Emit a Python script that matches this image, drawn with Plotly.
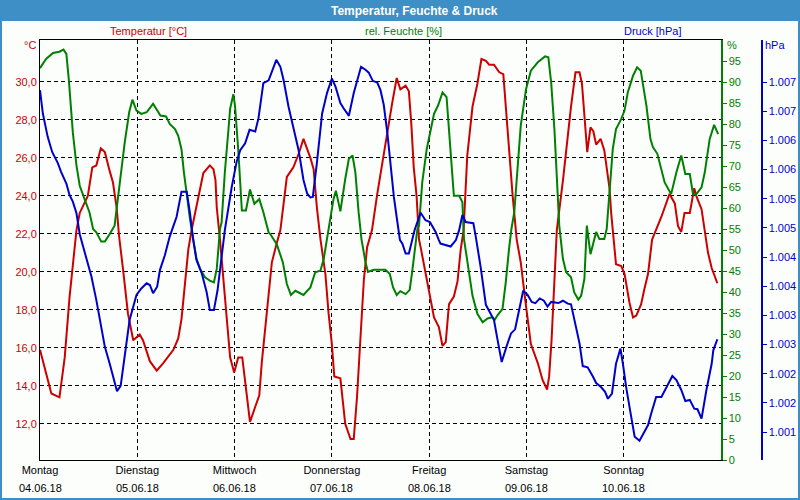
import pandas as pd
import plotly.graph_objects as go

# ---------------- data ----------------
start = "2018-06-04 00:00"
end = "2018-06-11 00:00"

day_dates = ["2018-06-04", "2018-06-05", "2018-06-06", "2018-06-07",
             "2018-06-08", "2018-06-09", "2018-06-10"]
day_names = ["Montag", "Dienstag", "Mittwoch", "Donnerstag", "Freitag", "Samstag", "Sonntag"]
day_labels = ["04.06.18", "05.06.18", "06.06.18", "07.06.18", "08.06.18", "09.06.18", "10.06.18"]

# hours since Monday 00:00
temp_hours = [0, 2.8, 4.8, 6.1, 7.3, 9.0, 9.8, 11.8, 12.9, 13.9, 15.0, 16.0, 17.2, 18.0, 18.9, 19.5,
              20.5, 21.7, 23.0, 24.6, 25.4, 27.1, 28.8, 30.4, 32.9, 34.1, 34.9, 35.8, 36.6, 37.4,
              39.5, 40.3, 41.9, 42.8, 43.3, 43.6, 44.4, 45.6, 46.9, 47.9, 48.9, 49.9, 51.0, 51.8,
              53.1, 54.1, 54.7, 56.0, 57.2, 58.4, 59.3, 60.9, 62.5, 63.8, 65.0, 66.7, 67.5, 68.3,
              69.2, 70.4, 71.2, 72.0, 72.6, 74.1, 75.3, 76.6, 77.4, 78.2, 79.1, 79.9, 80.7, 81.9,
              83.2, 84.4, 85.7, 86.9, 88.0, 88.9, 90.2, 91.0, 91.6, 92.2, 92.9, 93.5, 93.9, 95.1,
              95.9, 97.2, 98.4, 99.3, 100.1, 100.9, 102.1, 103.0, 103.8, 104.5, 105.4, 106.7,
              107.9, 108.9, 110.0, 110.8, 112.0, 113.3, 114.3, 114.9, 115.7, 116.6, 117.6, 118.6,
              119.9, 121.1, 122.8, 124.0, 125.1, 125.6, 126.2, 126.9, 127.5, 129.0, 130.0, 131.0,
              132.1, 133.1, 133.7, 134.3, 135.0, 135.8, 136.5, 137.2, 138.3, 139.2, 140.1, 140.5,
              140.9, 141.7, 142.1, 143.4, 144.2, 145.4, 146.3, 147.1, 148.3, 149.1, 150.0, 151.0,
              153.3, 155.3, 156.6, 157.4, 158.2, 159.0, 160.3, 161.4, 161.9, 163.2, 164.0, 164.8,
              165.7, 167.1]
temp_values = [15.9, 13.6, 13.4, 15.5, 18.7, 22.2, 23.1, 24.0, 25.5, 25.6, 26.5, 26.3, 25.3, 24.7, 23.4, 21.9,
               20.1, 17.8, 16.4, 16.7, 16.4, 15.3, 14.8, 15.2, 15.9, 16.5, 17.5, 19.6, 21.2, 22.2,
               24.5, 25.2, 25.6, 25.4, 24.8, 23.4, 21.7, 18.7, 15.5, 14.7, 15.5, 15.5, 13.4, 12.1,
               12.9, 13.5, 15.2, 17.8, 20.5, 21.5, 22.2, 25.0, 25.5, 26.2, 27.0, 26.0, 25.4, 23.4,
               21.7, 19.9, 17.8, 16.2, 14.5, 14.4, 12.0, 11.2, 11.2, 13.4, 16.9, 19.6, 21.3, 22.2,
               24.1, 25.7, 27.3, 28.9, 30.2, 29.6, 29.8, 29.5, 27.8, 25.5, 24.0, 21.7, 21.3, 19.9,
               18.9, 17.6, 17.1, 16.1, 16.3, 18.3, 18.7, 19.5, 21.2, 22.2, 26.1, 28.7,
               29.9, 31.2, 31.1, 30.9, 30.9, 30.5, 30.4, 28.7, 26.4, 24.0, 21.7, 20.5,
               18.2, 16.2, 15.2, 14.3, 13.8, 14.5, 16.4, 19.6, 22.2, 24.8, 26.9, 28.7,
               30.5, 30.5, 29.9, 28.4, 26.3, 27.6, 27.4, 26.7, 27.0, 26.4, 25.0, 24.4,
               23.1, 21.5, 20.4, 20.3, 19.9, 18.4, 17.6, 17.7, 18.3, 19.1, 19.9, 21.7,
               22.9, 24.1, 23.6, 22.4, 22.1, 23.1, 23.1, 24.4, 24.0, 23.3, 22.0, 21.0,
               20.2, 19.4]

hum_hours = [0, 1.5, 3.2, 4.8, 5.8, 6.5, 7.1, 7.7, 8.1, 9.0, 9.8, 11.0, 12.2, 13.1, 13.9, 15.1, 16.0,
             17.2, 18.0, 18.4, 19.7, 20.9, 22.0, 22.8, 23.8, 25.0, 26.3, 27.9, 29.7, 31.1, 32.0,
             33.3, 34.1, 34.9, 35.5, 36.2, 37.0, 37.8, 38.6, 39.5, 40.7, 41.9, 42.9, 43.6, 44.0,
             44.4, 44.8, 45.6, 46.5, 46.9, 47.7, 48.1, 48.9, 49.4, 49.8, 50.8, 51.8, 52.9, 54.1,
             55.1, 56.4, 56.8, 58.4, 59.9, 60.9, 61.9, 63.0, 65.0, 66.7, 67.9, 69.2, 70.0, 71.2,
             71.6, 72.4, 73.0, 74.1, 75.3, 76.2, 77.1, 77.8, 78.6, 79.3, 80.3, 80.9, 82.3, 85.2,
             86.3, 87.1, 88.0, 88.9, 90.2, 91.2, 91.8, 92.4, 93.1, 93.5, 94.3, 95.4, 96.4, 97.2,
             98.2, 99.3, 100.3, 100.7, 101.1, 101.7, 102.1, 103.4, 104.2, 104.6, 105.8, 106.7,
             107.9, 109.2, 110.4, 111.6, 112.2, 112.9, 114.1, 114.9, 115.7, 116.3, 117.0, 117.8,
             118.6, 119.9, 121.1, 122.8, 124.6, 125.4, 126.1, 126.9, 127.5, 128.1, 129.0, 129.8,
             131.0, 131.8, 132.8, 133.5, 134.3, 134.9, 135.8, 136.8, 137.2, 138.0, 139.2, 139.8,
             140.5, 141.3, 142.1, 143.4, 144.2, 145.0, 146.3, 147.3, 148.2, 148.7, 149.6, 150.6,
             151.2, 152.3, 153.3, 154.1, 155.7, 157.0, 158.2, 159.2, 160.3, 161.1, 161.9, 163.2,
             164.0, 165.2, 166.3, 167.3]
hum_values = [93.3, 95.5, 96.9, 97.2, 97.7, 96.7, 90.7, 82.0, 78.0, 70.1, 65.3, 62.1, 59.0, 55.0, 54.2, 52.0, 52.0,
              53.8, 55.0, 55.8, 66.1, 75.6, 82.8, 85.8, 83.2, 82.4, 82.8, 84.8, 82.0, 81.8, 80.0,
              78.8, 77.2, 74.0, 68.5, 62.9, 57.4, 52.6, 47.9, 45.5, 43.5, 42.7, 42.3, 45.5, 51.0,
              55.0, 56.6, 68.5, 78.8, 83.6, 87.1, 84.4, 74.0, 66.1, 59.4, 59.4, 64.4, 61.0, 62.1,
              59.0, 54.2, 53.8, 51.4, 47.1, 41.9, 39.3, 40.3, 39.3, 41.1, 44.7, 45.1, 47.9, 55.0,
              57.4, 62.1, 64.1, 59.2, 66.9, 71.7, 72.5, 68.5, 59.0, 52.6, 47.1, 44.8, 45.3, 45.3,
              44.3, 41.1, 39.3, 40.2, 39.5, 40.5, 44.7, 50.2, 55.0, 55.8, 66.1, 74.0, 79.2, 82.4,
              84.4, 87.5, 86.4, 81.2, 74.0, 66.9, 62.9, 62.9, 61.4, 52.6, 44.7, 39.1,
              34.8, 32.8, 33.7, 34.0, 33.4, 34.5, 36.0, 42.3, 50.2, 55.0, 59.0, 70.1,
              79.6, 88.3, 92.7, 94.7, 96.1, 95.9, 89.9, 78.8, 66.9, 55.8, 47.9, 44.7,
              43.5, 39.9, 38.2, 39.1, 43.1, 55.8, 49.0, 52.6, 54.3, 52.6, 52.6, 55.0,
              64.5, 74.0, 78.8, 81.2, 83.2, 87.5, 91.5, 93.5, 92.7, 89.9, 84.4, 76.4,
              74.5, 72.9, 69.3, 66.1, 63.3, 68.5, 72.5, 68.1, 68.1, 63.3, 63.3, 64.9,
              68.5, 76.4, 79.8, 77.6]

press_hours = [0, 0.7, 1.9, 3.0, 4.4, 5.2, 6.5, 7.3, 8.1, 9.0, 9.8, 11.4, 12.7, 13.9, 15.1, 16.0, 17.2,
               18.0, 19.0, 19.9, 20.9, 22.1, 23.8, 25.0, 26.3, 27.1, 27.9, 28.9, 29.6, 30.8, 32.0,
               33.7, 34.9, 36.2, 37.0, 37.8, 38.6, 39.9, 41.1, 41.9, 42.9, 43.8, 44.8, 45.6, 47.3,
               48.5, 49.4, 50.6, 51.7, 53.1, 53.9, 55.1, 56.4, 57.2, 58.3, 59.3, 60.1, 61.3, 62.5,
               63.8, 65.0, 65.9, 66.7, 67.3, 68.3, 69.6, 70.8, 72.0, 72.9, 74.1, 74.9, 76.2, 77.4,
               79.2, 80.3, 81.1, 82.1, 83.2, 84.0, 84.8, 85.7, 86.5, 87.3, 88.1, 88.8, 89.4, 90.2,
               91.0, 91.8, 92.4, 93.9, 95.1, 96.2, 97.6, 98.4, 98.8, 101.3, 102.6, 103.4, 104.2,
               105.0, 106.9, 107.5, 107.9, 108.7, 110.0, 112.0, 112.9, 113.9, 115.2, 116.2, 117.2,
               118.2, 119.2, 120.3, 121.3, 122.2, 123.3, 124.3, 125.2, 126.1, 127.9, 129.0, 130.2,
               131.0, 131.8, 133.1, 133.9, 135.1, 136.4, 137.2, 138.4, 139.4, 140.1, 141.1, 142.1,
               143.2, 143.8, 144.6, 145.7, 146.7, 147.9, 148.7, 150.0, 150.8, 152.0, 153.3, 154.5,
               156.0, 157.0, 158.2, 159.2, 160.3, 161.4, 162.2, 163.2, 164.4, 165.7, 166.1, 167.1]
press_values = [1006.86, 1006.46, 1006.06, 1005.80, 1005.61, 1005.46, 1005.26, 1005.06, 1004.95, 1004.75,
                1004.39, 1004.00, 1003.66, 1003.26, 1002.80, 1002.46, 1002.17,
                1001.95, 1001.70, 1001.79, 1002.29, 1002.92, 1003.35, 1003.46, 1003.55, 1003.52, 1003.38,
                1003.49, 1003.78, 1004.03, 1004.35,
                1004.69, 1005.12, 1005.12, 1004.75, 1004.29, 1003.95, 1003.72, 1003.40, 1003.09, 1003.09,
                1003.43, 1004.00, 1004.46, 1005.20,
                1005.63, 1005.83, 1005.95, 1006.18, 1006.15, 1006.38, 1006.98, 1007.03, 1007.18, 1007.38,
                1007.26, 1007.03, 1006.58, 1006.23,
                1005.83, 1005.32, 1005.09, 1005.02, 1005.03, 1005.61, 1006.46, 1006.81, 1007.06, 1006.92,
                1006.64, 1006.55, 1006.42, 1006.81,
                1007.26, 1007.21, 1007.16, 1007.02, 1006.99, 1006.86, 1006.61, 1006.12, 1005.55, 1005.03,
                1004.63, 1004.29, 1004.23, 1004.06,
                1004.06, 1004.29, 1004.46, 1004.76, 1004.63, 1004.60, 1004.43, 1004.29, 1004.23, 1004.18,
                1004.29, 1004.46, 1004.72,
                1004.60, 1004.58, 1004.35, 1004.18, 1003.83, 1003.18, 1002.92, 1002.57, 1002.20, 1002.49,
                1002.69, 1002.76,
                1003.09, 1003.42, 1003.35, 1003.23, 1003.21, 1003.29, 1003.25, 1003.15, 1003.23, 1003.21,
                1003.25, 1003.20,
                1003.19, 1002.92, 1002.52, 1002.13, 1002.11, 1001.95, 1001.84, 1001.77, 1001.69, 1001.57,
                1001.66, 1002.17,
                1002.43, 1002.17, 1001.77, 1001.32, 1000.92, 1000.85, 1000.96, 1001.12, 1001.32, 1001.60,
                1001.60, 1001.77,
                1001.96, 1001.89, 1001.72, 1001.53, 1001.55, 1001.40, 1001.39, 1001.23, 1001.72, 1002.17,
                1002.40, 1002.59]

temp_ticks = [12, 14, 16, 18, 20, 22, 24, 26, 28, 30]
temp_ticktext = ["12,0", "14,0", "16,0", "18,0", "20,0", "22,0", "24,0", "26,0", "28,0", "30,0"]
hum_ticks = list(range(0, 100, 5))
press_ticks = [1001.0, 1001.5, 1002.0, 1002.5, 1003.0, 1003.5, 1004.0, 1004.5, 1005.0,
               1005.5, 1006.0, 1006.5, 1007.0]
press_ticktext = ["1.001", "1.002", "1.002", "1.003", "1.003", "1.004", "1.004", "1.005",
                  "1.005", "1.006", "1.006", "1.007", "1.007"]

# ---------------- styling ----------------
RED = "#cc0000"
GREEN = "#008000"
BLUE = "#0000cc"
FRAME = "#3d8fc6"
BG = "#fcfefc"
FONT = "Liberation Sans"

W, H = 800, 500
ML, MR, MT, MB = 40, 0, 40, 40
PW = W - ML - MR   # 760
PH = H - MT - MB   # 420
X_END = 721        # right edge of the data area (green axis)
BLUE_AX = 761


def px(x):
    return (x - ML) / PW


def py(y):
    return (H - MB - y) / PH


base = pd.Timestamp(start)


def to_time(hours):
    return base + pd.to_timedelta(hours, unit="h")


fig = go.Figure()
fig.add_trace(go.Scatter(x=to_time(temp_hours), y=temp_values, mode="lines",
                         line=dict(color=RED, width=2), yaxis="y", name="Temperatur [°C]"))
fig.add_trace(go.Scatter(x=to_time(hum_hours), y=hum_values, mode="lines",
                         line=dict(color=GREEN, width=2), yaxis="y2", name="rel. Feuchte [%]"))
fig.add_trace(go.Scatter(x=to_time(press_hours), y=press_values, mode="lines",
                         line=dict(color=BLUE, width=2), yaxis="y3", name="Druck [hPa]"))

dash = "4px,3px"

fig.update_layout(
    width=W, height=H, autosize=False,
    margin=dict(l=ML, r=MR, t=MT, b=MB, pad=0, autoexpand=False),
    paper_bgcolor=BG, plot_bgcolor=BG,
    showlegend=False, hovermode=False,
    font=dict(family=FONT, size=11, color="black"),
    xaxis=dict(
        type="date", range=[start, end], domain=[0, px(X_END)],
        tickvals=day_dates, ticktext=day_names, ticks="",
        tickfont=dict(family=FONT, size=11, color="black"),
        showgrid=True, gridcolor="black", gridwidth=1, griddash=dash,
        showline=True, linecolor="black", linewidth=1, mirror=True,
        zeroline=False, fixedrange=True, automargin=False,
    ),
    yaxis=dict(
        range=[10.1, 32.2], tickvals=temp_ticks, ticktext=temp_ticktext, ticks="",
        tickfont=dict(family=FONT, size=11, color=RED),
        showgrid=True, gridcolor="black", gridwidth=1, griddash=dash,
        showline=True, linecolor="black", linewidth=1,
        zeroline=False, fixedrange=True, automargin=False,
    ),
    yaxis2=dict(
        overlaying="y", side="right", anchor="x",
        range=[0, 100], tickvals=hum_ticks,
        ticks="outside", ticklen=4, tickcolor=GREEN, tickwidth=1,
        tickfont=dict(family=FONT, size=11, color=GREEN),
        showgrid=False, showline=True, linecolor=GREEN, linewidth=1.5,
        zeroline=False, fixedrange=True, automargin=False,
    ),
    yaxis3=dict(
        overlaying="y", side="right", anchor="free", position=px(BLUE_AX),
        range=[1000.52, 1007.72], tickvals=press_ticks, ticktext=press_ticktext,
        ticks="outside", ticklen=4, tickcolor=BLUE, tickwidth=1,
        tickfont=dict(family=FONT, size=11, color=BLUE),
        showgrid=False, showline=True, linecolor=BLUE, linewidth=1.5,
        zeroline=False, fixedrange=True, automargin=False,
    ),
)

shapes = [
    # title bar
    dict(type="rect", xref="paper", yref="paper", x0=px(0) - 0.01, x1=px(W) + 0.01,
         y0=py(21), y1=py(0) + 0.01, fillcolor=FRAME, line=dict(width=0), layer="above"),
    # outer frame
    dict(type="rect", xref="paper", yref="paper", x0=px(1), x1=px(W - 1),
         y0=py(H - 1), y1=py(1), fillcolor="rgba(0,0,0,0)",
         line=dict(color=FRAME, width=2), layer="above"),
]

annotations = [
    dict(text="<b>Temperatur, Feuchte &amp; Druck</b>", x=px(414), y=py(10.5), xref="paper", yref="paper",
         showarrow=False, font=dict(family=FONT, size=12, color="white"), xanchor="center", yanchor="middle"),
    dict(text="Temperatur [°C]", x=px(148), y=py(31), xref="paper", yref="paper", showarrow=False,
         font=dict(family=FONT, size=11, color=RED), xanchor="center", yanchor="middle"),
    dict(text="rel. Feuchte [%]", x=px(403), y=py(31), xref="paper", yref="paper", showarrow=False,
         font=dict(family=FONT, size=11, color=GREEN), xanchor="center", yanchor="middle"),
    dict(text="Druck [hPa]", x=px(652), y=py(31), xref="paper", yref="paper", showarrow=False,
         font=dict(family=FONT, size=11, color=BLUE), xanchor="center", yanchor="middle"),
    dict(text="°C", x=px(38), y=py(45), xref="paper", yref="paper", showarrow=False,
         font=dict(family=FONT, size=11, color=RED), xanchor="right", yanchor="middle"),
    dict(text="%", x=px(725), y=py(45), xref="paper", yref="paper", showarrow=False,
         font=dict(family=FONT, size=11, color=GREEN), xanchor="left", yanchor="middle"),
    dict(text="hPa", x=px(763), y=py(45), xref="paper", yref="paper", showarrow=False,
         font=dict(family=FONT, size=11, color=BLUE), xanchor="left", yanchor="middle"),
]
for d, lab in zip(day_dates, day_labels):
    annotations.append(dict(text=lab, x=d, y=py(488), xref="x", yref="paper", showarrow=False,
                            font=dict(family=FONT, size=11, color="black"),
                            xanchor="center", yanchor="middle"))

fig.update_layout(shapes=shapes, annotations=annotations)

fig.write_html(
    "out.html",
    config={"displayModeBar": False, "staticPlot": True},
    post_script="document.body.style.margin='0';document.body.style.padding='0';",
)
